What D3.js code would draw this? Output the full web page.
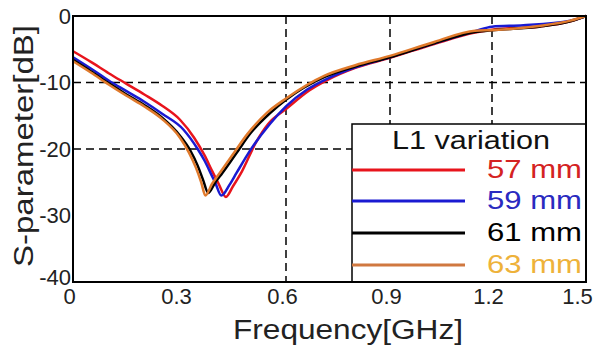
<!DOCTYPE html>
<html>
<head>
<meta charset="utf-8">
<script src="https://cdn.jsdelivr.net/npm/d3@7"></script>
<style>
  body { margin: 0; background: #fff; }
  text { font-family: "Liberation Sans", Arial, sans-serif; }
</style>
</head>
<body>
<div id="chartDiv"></div>
<script>
var width = 596,
    height = 349;

// x ticks and the pixel stops they sit on (the source picture is slightly uneven)
var xTicks = [0, 0.3, 0.6, 0.9, 1.2, 1.5];
var yTicks = [0, -10, -20, -30, -40];
var xGrid = [0.6, 0.9, 1.2];
var yGrid = [-10, -20];

// S-parameter curves, one pair of arrays per L1 value
var freq57 = [0, 0.05, 0.10, 0.15, 0.20, 0.25, 0.30, 0.34, 0.37, 0.39, 0.41, 0.43, 0.45, 0.475, 0.515, 0.55, 0.60, 0.667, 0.72, 0.80, 0.90, 1.03, 1.15, 1.21, 1.35, 1.45, 1.50];
var s57 = [-5.3, -6.9, -8.6, -10.2, -11.8, -13.5, -15.6, -18.3, -21.0, -23.2, -25.3, -27.2, -25.6, -23.4, -19.0, -16.2, -14.0, -11.2, -9.6, -7.8, -6.3, -4.2, -2.5, -2.0, -1.6, -0.8, 0];

var freq59 = [0, 0.05, 0.10, 0.15, 0.20, 0.25, 0.31, 0.35, 0.37, 0.39, 0.40, 0.417, 0.44, 0.46, 0.50, 0.555, 0.60, 0.66, 0.72, 0.80, 0.90, 1.03, 1.15, 1.20, 1.30, 1.45, 1.50];
var s59 = [-6.2, -7.9, -9.7, -11.3, -12.9, -14.7, -17.1, -20.0, -21.8, -24.0, -25.1, -27.0, -25.4, -23.6, -20.1, -16.2, -13.6, -11.1, -9.4, -7.7, -6.2, -4.1, -2.3, -1.6, -1.4, -0.7, 0];

var freq61 = [0, 0.05, 0.10, 0.15, 0.20, 0.25, 0.30, 0.33, 0.35, 0.365, 0.38, 0.40, 0.42, 0.46, 0.50, 0.555, 0.60, 0.71, 0.80, 0.90, 1.03, 1.15, 1.21, 1.35, 1.45, 1.50];
var s61 = [-6.6, -8.3, -10.1, -11.8, -13.4, -15.3, -18.0, -20.3, -22.5, -24.6, -26.6, -25.0, -23.6, -20.6, -17.6, -14.6, -12.6, -9.2, -7.6, -6.2, -4.1, -2.4, -2.1, -1.6, -0.8, 0];

var freq63 = [0, 0.05, 0.10, 0.15, 0.20, 0.25, 0.30, 0.325, 0.345, 0.36, 0.372, 0.39, 0.41, 0.45, 0.49, 0.545, 0.60, 0.71, 0.80, 0.90, 1.03, 1.15, 1.21, 1.35, 1.45, 1.50];
var s63 = [-6.8, -8.5, -10.3, -12.0, -13.6, -15.5, -18.3, -20.5, -22.8, -25.0, -27.0, -25.3, -23.8, -20.8, -17.8, -14.6, -12.4, -9.0, -7.4, -6.0, -3.9, -2.2, -2.1, -1.5, -0.7, 0];

var seriesNames = ["57 mm", "59 mm", "61 mm", "63 mm"];
var lineColors = ["#e8141c", "#1a1ad2", "#000000", "#e07a2c"];
var textColors = ["#d42222", "#2a2ac0", "#000000", "#eeb23a"];
var legendLineColors = ["#e8141c", "#1a1ad2", "#000000", "#d07840"];

var series = [
    { name: seriesNames[0], f: freq57, s: s57 },
    { name: seriesNames[1], f: freq59, s: s59 },
    { name: seriesNames[2], f: freq61, s: s61 },
    { name: seriesNames[3], f: freq63, s: s63 }
];

var plot = { left: 73, right: 586, top: 16, bottom: 282 };

var svg = d3.select("#chartDiv")
    .append("svg")
    .attr("width", width)
    .attr("height", height);

// piecewise scale to follow the picture's uneven spacing
var x = d3.scaleLinear()
    .domain(xTicks)
    .range([plot.left, 180, 286, 390, 492, plot.right]);

var y = d3.scaleLinear()
    .domain([0, -40])
    .range([plot.top, plot.bottom]);

// dashed grid
svg.append("g")
    .selectAll("line")
    .data(yGrid)
    .enter().append("line")
    .attr("x1", plot.left).attr("x2", plot.right)
    .attr("y1", function (d) { return y(d); })
    .attr("y2", function (d) { return y(d); })
    .attr("stroke", "#000")
    .attr("stroke-width", 1.5)
    .attr("stroke-dasharray", "8,5");

svg.append("g")
    .selectAll("line")
    .data(xGrid)
    .enter().append("line")
    .attr("y1", plot.top).attr("y2", plot.bottom)
    .attr("x1", function (d) { return x(d); })
    .attr("x2", function (d) { return x(d); })
    .attr("stroke", "#000")
    .attr("stroke-width", 1.5)
    .attr("stroke-dasharray", "8,5");

// curves
var line = d3.line()
    .x(function (d) { return x(d[0]); })
    .y(function (d) { return y(d[1]); })
    .curve(d3.curveMonotoneX);

svg.append("g")
    .selectAll("path")
    .data(series)
    .enter().append("path")
    .attr("d", function (d) { return line(d3.zip(d.f, d.s)); })
    .attr("fill", "none")
    .attr("stroke", function (d, i) { return lineColors[i]; })
    .attr("stroke-width", 2.5)
    .attr("stroke-linejoin", "round");

// legend box
var legend = svg.append("g");
legend.append("rect")
    .attr("x", 352).attr("y", 124)
    .attr("width", plot.right - 352).attr("height", plot.bottom - 124)
    .attr("fill", "#fff")
    .attr("stroke", "#000")
    .attr("stroke-width", 1.5);

legend.append("text")
    .attr("x", 392).attr("y", 149)
    .attr("font-size", 25)
    .attr("fill", "#111")
    .attr("textLength", 158)
    .attr("lengthAdjust", "spacingAndGlyphs")
    .text("L1 variation");

var rowY = [170, 201, 233, 265];
var rows = legend.selectAll("g.row")
    .data(seriesNames)
    .enter().append("g")
    .attr("class", "row");

rows.append("line")
    .attr("x1", 352).attr("x2", 465)
    .attr("y1", function (d, i) { return rowY[i]; })
    .attr("y2", function (d, i) { return rowY[i]; })
    .attr("stroke", function (d, i) { return legendLineColors[i]; })
    .attr("stroke-width", 3);

rows.append("text")
    .attr("x", 487)
    .attr("y", function (d, i) { return rowY[i] + 8; })
    .attr("font-size", 25)
    .attr("textLength", 95)
    .attr("lengthAdjust", "spacingAndGlyphs")
    .attr("fill", function (d, i) { return textColors[i]; })
    .text(function (d) { return d; });

// frame
svg.append("rect")
    .attr("x", plot.left).attr("y", plot.top)
    .attr("width", plot.right - plot.left).attr("height", plot.bottom - plot.top)
    .attr("fill", "none")
    .attr("stroke", "#000")
    .attr("stroke-width", 2);

// axes (labels only)
var xAxis = svg.append("g")
    .attr("transform", "translate(0," + plot.bottom + ")")
    .call(d3.axisBottom(x).tickValues(xTicks).tickSize(0).tickPadding(6)
        .tickFormat(function (d) { return d === 0 ? "0" : d3.format(".1f")(d); }));
xAxis.select(".domain").remove();
xAxis.selectAll("text")
    .attr("font-size", 22)
    .attr("font-family", "Liberation Sans, Arial, sans-serif")
    .attr("fill", "#222")
    .attr("dx", function (d) { return d === 1.5 ? -9 : -4; });

var yAxis = svg.append("g")
    .attr("transform", "translate(" + plot.left + ",0)")
    .call(d3.axisLeft(y).tickValues(yTicks).tickSize(0).tickPadding(2)
        .tickFormat(function (d) { return String(d); }));
yAxis.select(".domain").remove();
yAxis.selectAll("text")
    .attr("font-size", 22)
    .attr("font-family", "Liberation Sans, Arial, sans-serif")
    .attr("fill", "#222")
    .attr("y", function (d) { return d === -40 ? -5 : 0; });

// axis titles
svg.append("text")
    .attr("x", 233).attr("y", 339)
    .attr("font-size", 27)
    .attr("fill", "#222")
    .attr("textLength", 230)
    .attr("lengthAdjust", "spacingAndGlyphs")
    .text("Frequency[GHz]");

svg.append("text")
    .attr("transform", "translate(33,146) rotate(-90)")
    .attr("text-anchor", "middle")
    .attr("font-size", 27)
    .attr("fill", "#222")
    .attr("textLength", 242)
    .attr("lengthAdjust", "spacingAndGlyphs")
    .text("S-parameter[dB]");
</script>
</body>
</html>
